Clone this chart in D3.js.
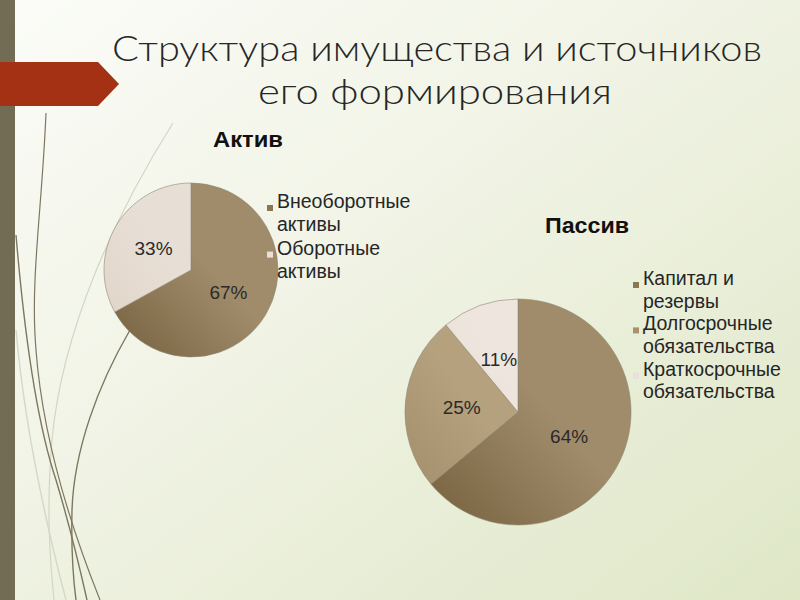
<!DOCTYPE html>
<html>
<head>
<meta charset="utf-8">
<script src="https://cdn.jsdelivr.net/npm/d3@7"></script>
<style>
  body { margin: 0; background: #fff; }
  svg { display: block; }
</style>
</head>
<body>
<div id="chart"></div>
<script>
  // data
  const assetNames = [["Внеоборотные", "активы"], ["Оборотные", "активы"]];
  const assetValues = [67, 33];
  const liabNames = [["Капитал и", "резервы"], ["Долгосрочные", "обязательства"], ["Краткосрочные", "обязательства"]];
  const liabValues = [64, 25, 11];
  const titleLines = ["Структура имущества и источников", "его формирования"];

  const width = 800;
  const height = 600;

  const svg = d3.select("#chart")
    .append("svg")
    .attr("width", width)
    .attr("height", height);

  const defs = svg.append("defs");

  const bg = defs.append("linearGradient")
    .attr("id", "bg")
    .attr("x1", 0).attr("y1", 0).attr("x2", 1).attr("y2", 1);
  bg.append("stop").attr("offset", "0%").attr("stop-color", "#fbfcf8");
  bg.append("stop").attr("offset", "45%").attr("stop-color", "#f0f3e4");
  bg.append("stop").attr("offset", "100%").attr("stop-color", "#dfe7c7");

  svg.append("rect")
    .attr("width", width)
    .attr("height", height)
    .attr("fill", "url(#bg)");

  // decorative strands on the left
  const strands = [
    { d: "M173,123 C115,215 62,330 52,440 C46,510 50,560 54,600", c: "#d3d6c4", w: 1.2 },
    { d: "M16,330 C24,420 45,520 66,600", c: "#d6d9c8", w: 1.5 },
    { d: "M46,113 C42,210 30,280 36,350 C42,430 68,520 100,600", c: "#7d7760", w: 1.2 },
    { d: "M16,235 C24,330 36,420 56,480 C68,520 78,560 87,600", c: "#7d7760", w: 1.4 },
    { d: "M130,330 C98,385 74,450 72,510 C71,555 74,585 76,600", c: "#7d7760", w: 1.4 }
  ];
  svg.selectAll("path.strand")
    .data(strands)
    .join("path")
    .attr("class", "strand")
    .attr("d", d => d.d)
    .attr("fill", "none")
    .attr("stroke", d => d.c)
    .attr("stroke-width", d => d.w);

  svg.append("rect")
    .attr("x", 0).attr("y", 0)
    .attr("width", 15).attr("height", height)
    .attr("fill", "#726c55");

  svg.append("polygon")
    .attr("points", "0,62 98,62 119,84 98,106 0,106")
    .attr("fill", "#a53115");

  svg.selectAll("text.title")
    .data(titleLines)
    .join("text")
    .attr("class", "title")
    .attr("x", (d, i) => i === 0 ? 112 : 258)
    .attr("y", (d, i) => i === 0 ? 61 : 104)
    .attr("textLength", (d, i) => i === 0 ? 650 : 354)
    .attr("lengthAdjust", "spacingAndGlyphs")
    .attr("font-family", "Lato, 'Open Sans', sans-serif")
    .attr("font-weight", 300)
    .attr("font-size", 35)
    .attr("fill", "#262626")
    .text(d => d);

  function slicePaint(id, base, dark) {
    const g = defs.append("linearGradient")
      .attr("id", id)
      .attr("x1", 1).attr("y1", 0).attr("x2", 0).attr("y2", 1);
    g.append("stop").attr("offset", "0%").attr("stop-color", base);
    g.append("stop").attr("offset", "45%").attr("stop-color", base);
    g.append("stop").attr("offset", "100%").attr("stop-color", dark);
    return `url(#${id})`;
  }

  function drawPie(opts) {
    const g = svg.append("g")
      .attr("transform", `translate(${opts.cx}, ${opts.cy})`);

    const pie = d3.pie().sort(null).value(d => d);
    const arc = d3.arc().innerRadius(0).outerRadius(opts.r);
    const arcs = pie(opts.values);

    g.selectAll("path")
      .data(arcs)
      .join("path")
      .attr("d", arc)
      .attr("fill", (d, i) => opts.fills[i])
      .attr("stroke", "#8f8672")
      .attr("stroke-width", 0.6);

    g.selectAll("text")
      .data(arcs)
      .join("text")
      .attr("transform", d => `translate(${arc.centroid(d)})`)
      .attr("text-anchor", "middle")
      .attr("dy", "0.36em")
      .attr("font-family", "'Liberation Sans', Arial, sans-serif")
      .attr("font-size", 19)
      .attr("fill", "#2a2a2a")
      .text(d => d.data + "%");

    svg.append("text")
      .attr("x", opts.titleX)
      .attr("y", opts.titleY)
      .attr("text-anchor", "middle")
      .attr("textLength", opts.titleW)
      .attr("lengthAdjust", "spacingAndGlyphs")
      .attr("font-family", "'Liberation Sans', Arial, sans-serif")
      .attr("font-weight", "bold")
      .attr("font-size", 22)
      .attr("fill", "#111")
      .text(opts.title);

    const legend = svg.append("g")
      .attr("transform", `translate(${opts.legendX}, ${opts.legendY})`);

    const item = legend.selectAll("g")
      .data(opts.names)
      .join("g")
      .attr("transform", (d, i) => `translate(0, ${i * opts.step * 2})`);

    item.append("rect")
      .attr("x", -10)
      .attr("y", -3)
      .attr("width", 6)
      .attr("height", 6)
      .attr("fill", (d, i) => opts.marks[i]);

    item.append("text")
      .attr("font-family", "'Liberation Sans', Arial, sans-serif")
      .attr("font-size", 19.5)
      .attr("fill", "#262626")
      .selectAll("tspan")
      .data(d => d)
      .join("tspan")
      .attr("x", 0)
      .attr("y", (d, i) => i * opts.step)
      .text(d => d);
  }

  drawPie({
    cx: 191, cy: 270, r: 87,
    values: assetValues,
    names: assetNames,
    fills: [slicePaint("a0", "#a08c6b", "#77613f"), slicePaint("a1", "#e7ded5", "#e2d6c9")],
    marks: ["#8c7652", "#e9e0d6"],
    title: "Актив", titleX: 248, titleY: 147, titleW: 70,
    legendX: 277, legendY: 208, step: 23.3
  });

  drawPie({
    cx: 518, cy: 412, r: 113,
    values: liabValues,
    names: liabNames,
    fills: [slicePaint("b0", "#a08c6b", "#77613f"), slicePaint("b1", "#b5a17e", "#a48f6c"), slicePaint("b2", "#eee6de", "#e6dbd0")],
    marks: ["#8c7652", "#a8926c", "#e9e1d8"],
    title: "Пассив", titleX: 587, titleY: 233, titleW: 84,
    legendX: 643, legendY: 285, step: 22.7
  });
</script>
</body>
</html>
